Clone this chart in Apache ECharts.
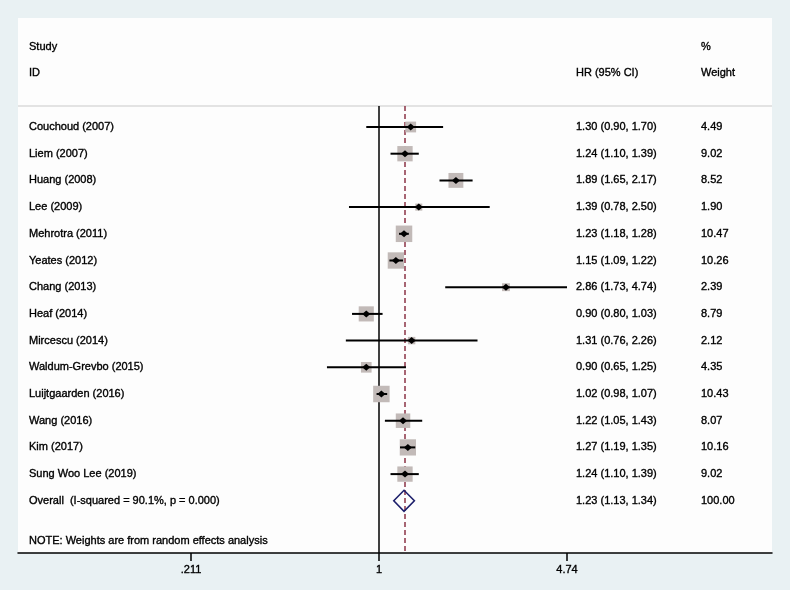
<!DOCTYPE html>
<html>
<head>
<meta charset="utf-8">
<script src="https://cdn.jsdelivr.net/npm/echarts@6/dist/echarts.min.js"></script>
<style>
html,body{margin:0;padding:0;background:#e9f1f3;}
#chart{width:790px;height:590px;}
</style>
</head>
<body>
<div id="chart"></div>
<script>
// ---- data ----
var studies = ['Couchoud (2007)', 'Liem (2007)', 'Huang (2008)', 'Lee (2009)', 'Mehrotra (2011)', 'Yeates (2012)', 'Chang (2013)', 'Heaf (2014)', 'Mircescu (2014)', 'Waldum-Grevbo (2015)', 'Luijtgaarden (2016)', 'Wang (2016)', 'Kim (2017)', 'Sung Woo Lee (2019)'];
var hr     = [1.30, 1.24, 1.89, 1.39, 1.23, 1.15, 2.86, 0.90, 1.31, 0.90, 1.02, 1.22, 1.27, 1.24];
var lower  = [0.90, 1.10, 1.65, 0.78, 1.18, 1.09, 1.73, 0.80, 0.76, 0.65, 0.98, 1.05, 1.19, 1.10];
var upper  = [1.70, 1.39, 2.17, 2.50, 1.28, 1.22, 4.74, 1.03, 2.26, 1.25, 1.07, 1.43, 1.35, 1.39];
var weight = [4.49, 9.02, 8.52, 1.90, 10.47, 10.26, 2.39, 8.79, 2.12, 4.35, 10.43, 8.07, 10.16, 9.02];
var overallLabel = 'Overall  (I-squared = 90.1%, p = 0.000)';
var overallHR = 1.23, overallLower = 1.13, overallUpper = 1.34, overallWeight = 100.00;
var tickValues = [0.211, 1, 4.74];
var tickLabels = ['.211', '1', '4.74'];
var noteText = 'NOTE: Weights are from random effects analysis';

// ---- layout ----
var FONT = '11px "Liberation Sans", Arial, Helvetica, sans-serif';
var TXT = '#000';
var gridLeft = 18, gridRight = 772, gridTop = 106, gridBottom = 553;
var originPx = 379, pxPerLn = 188 / Math.log(4.74);
var xMin = (gridLeft - originPx) / pxPerLn, xMax = (gridRight - originPx) / pxPerLn;
var row0 = 127, rowH = 26.7;
var yMin = (gridTop - row0) / rowH, yMax = (gridBottom - row0) / rowH;
var colStudy = 11, colHR = 558, colW = 683; // offsets from grid left
var maxW = Math.max.apply(null, weight), boxMax = 16.5;

var ln = Math.log;
function txtStyle(t) {
  return { text: t, font: FONT, fill: TXT, stroke: TXT, lineWidth: 0.35, textVerticalAlign: 'middle' };
}
var studyData = studies.map(function (s, i) {
  return [ln(lower[i]), ln(upper[i]), ln(hr[i]), i, weight[i]];
});
var textData = studies.map(function (s, i) {
  return { value: [0, i], name: s, hrTxt: hr[i].toFixed(2) + ' (' + lower[i].toFixed(2) + ', ' + upper[i].toFixed(2) + ')', wTxt: weight[i].toFixed(2) };
});
textData.push({ value: [0, studies.length], name: overallLabel, hrTxt: overallHR.toFixed(2) + ' (' + overallLower.toFixed(2) + ', ' + overallUpper.toFixed(2) + ')', wTxt: overallWeight.toFixed(2) });

var chart = echarts.init(document.getElementById('chart'));
chart.setOption({
  backgroundColor: '#e9f1f3',
  animation: false,
  graphic: [
    { type: 'rect', z: -10, shape: { x: 18, y: 18, width: 754, height: 535 }, style: { fill: '#fdfdfd' } },
    { type: 'line', shape: { x1: 18, y1: 106, x2: 772, y2: 106 }, style: { stroke: '#c9c9c9', lineWidth: 1 } },
    { type: 'text', x: 29, y: 47, style: txtStyle('Study') },
    { type: 'text', x: 29, y: 73, style: txtStyle('ID') },
    { type: 'text', x: 701, y: 47, style: txtStyle('%') },
    { type: 'text', x: 576, y: 73, style: txtStyle('HR (95% CI)') },
    { type: 'text', x: 701, y: 73, style: txtStyle('Weight') },
    { type: 'text', x: 29, y: 541, style: txtStyle(noteText) }
  ],
  grid: { left: gridLeft, right: 790 - gridRight, top: gridTop, bottom: 590 - gridBottom, containLabel: false },
  xAxis: {
    type: 'value', min: xMin, max: xMax,
    axisLine: { show: true, onZero: false, lineStyle: { color: '#000', width: 1.5 } },
    axisTick: { show: true, length: 8, lineStyle: { color: '#000', width: 1.5 }, customValues: tickValues.map(ln) },
    axisLabel: {
      show: true, margin: 11, color: TXT, fontSize: 11, fontFamily: '"Liberation Sans", Arial, sans-serif',
      textBorderColor: TXT, textBorderWidth: 0.35,
      customValues: tickValues.map(ln),
      formatter: function (v) {
        for (var k = 0; k < tickValues.length; k++) if (Math.abs(ln(tickValues[k]) - v) < 1e-6) return tickLabels[k];
        return '';
      }
    },
    splitLine: { show: false }
  },
  yAxis: { type: 'value', min: yMin, max: yMax, inverse: true, show: false, splitLine: { show: false } },
  series: [
    {
      type: 'scatter', data: [[ln(overallHR), studies.length]], symbolSize: 0, silent: true,
      markLine: {
        silent: true, symbol: 'none', label: { show: false },
        data: [
          { xAxis: 0, lineStyle: { color: '#000', width: 1.5, type: 'solid' } },
          { xAxis: ln(overallHR), lineStyle: { color: '#8a3345', width: 1.5, type: [5, 3] } }
        ]
      }
    },
    {
      type: 'custom', data: studyData, encode: { x: [0, 1, 2], y: 3 }, clip: false, z: 5,
      renderItem: function (params, api) {
        var y = api.value(3);
        var a = api.coord([api.value(0), y]), b = api.coord([api.value(1), y]), c = api.coord([api.value(2), y]);
        var s = boxMax * Math.sqrt(api.value(4) / maxW);
        var d = 3.5;
        return {
          type: 'group', children: [
            { type: 'rect', shape: { x: c[0] - s / 2, y: c[1] - s / 2, width: s, height: s }, style: { fill: '#c2bab8' } },
            { type: 'line', shape: { x1: a[0], y1: a[1], x2: b[0], y2: b[1] }, style: { stroke: '#000', lineWidth: 2 } },
            { type: 'polygon', shape: { points: [[c[0] - d - 0.5, c[1]], [c[0], c[1] - d], [c[0] + d + 0.5, c[1]], [c[0], c[1] + d]] }, style: { fill: '#000' } }
          ]
        };
      }
    },
    {
      type: 'custom', data: [[ln(overallLower), ln(overallUpper), ln(overallHR), studies.length]], encode: { x: [0, 1, 2], y: 3 }, z: 6,
      renderItem: function (params, api) {
        var y = api.value(3);
        var a = api.coord([api.value(0), y]), b = api.coord([api.value(1), y]), c = api.coord([api.value(2), y]);
        var h = 10.5;
        return {
          type: 'polygon', shape: { points: [[a[0], a[1]], [c[0], c[1] - h], [b[0], b[1]], [c[0], c[1] + h]] },
          style: { fill: 'none', stroke: '#1d1f6b', lineWidth: 1.6 }
        };
      }
    },
    {
      type: 'custom', data: textData, encode: { y: 1 }, clip: false, z: 7,
      renderItem: function (params, api) {
        var item = textData[params.dataIndex];
        var p = api.coord([0, api.value(1)]);
        var x0 = params.coordSys.x;
        return {
          type: 'group', children: [
            { type: 'text', x: x0 + colStudy, y: p[1], style: txtStyle(item.name) },
            { type: 'text', x: x0 + colHR, y: p[1], style: txtStyle(item.hrTxt) },
            { type: 'text', x: x0 + colW, y: p[1], style: txtStyle(item.wTxt) }
          ]
        };
      }
    }
  ]
});
</script>
</body>
</html>
